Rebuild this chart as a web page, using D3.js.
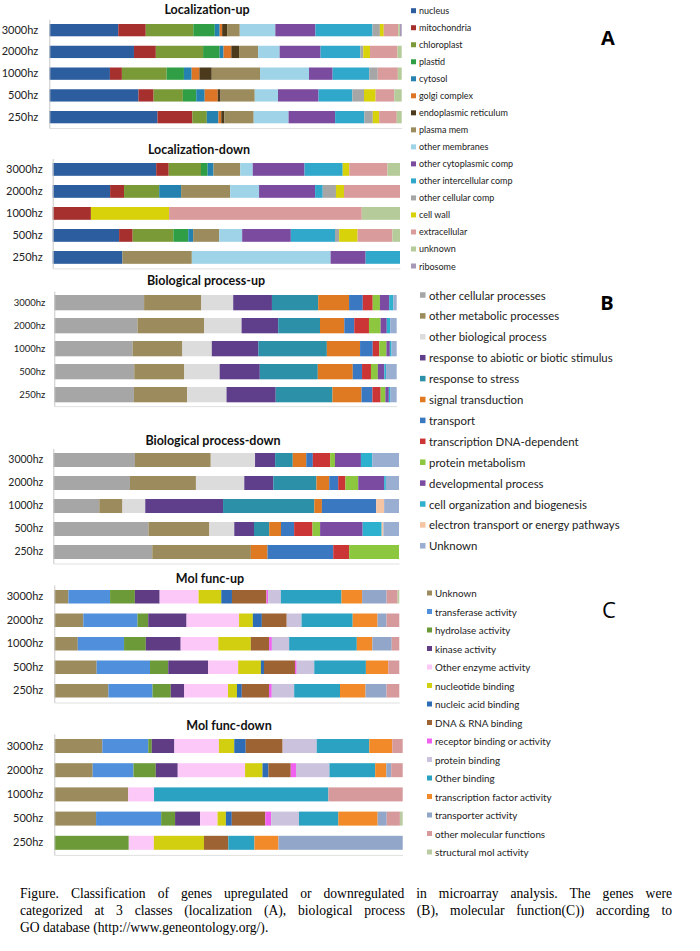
<!DOCTYPE html>
<html><head><meta charset="utf-8">
<script src="https://cdn.jsdelivr.net/npm/d3@7"></script>
<style>
body{margin:0;background:#fff;}
svg{position:absolute;left:0;top:0;}
#cap{position:absolute;left:20px;top:885px;width:652px;font-family:"Liberation Serif","Times New Roman",serif;font-size:13.6px;line-height:17px;color:#000;}
#cap div{text-align:justify;text-align-last:justify;white-space:nowrap;}
#cap div.last{text-align-last:left;}
</style></head><body>
<svg id="chart" width="700" height="880"></svg>
<div id="cap"></div>
<script>
// ---------- DATA ----------
const freqs = ["3000hz","2000hz","1000hz","500hz","250hz"];

const locCategories = ["nucleus","mitochondria","chloroplast","plastid","cytosol","golgi complex","endoplasmic reticulum","plasma mem","other membranes","other cytoplasmic comp","other intercellular comp","other cellular comp","cell wall","extracellular","unknown","ribosome"];
const locUpValues = [
  [19.6,7.8,13.5,6.1,1.4,0.7,1.4,3.6,10.1,11.4,16.2,2.1,1.1,4.1,0.5,0.5],
  [24.0,6.2,13.4,4.7,1.1,2.2,2.2,5.4,6.1,11.6,11.3,0.8,1.9,7.8,1.2,0],
  [17.2,3.4,12.7,4.9,2.2,2.2,3.5,13.7,13.9,6.7,10.4,2.4,0,5.7,1.1,0],
  [25.3,4.3,8.3,3.8,2.4,3.7,0.8,9.7,6.6,11.5,9.6,3.3,3.3,5.3,2.1,0],
  [30.7,9.9,4.1,0,3.3,0.8,0.9,8.3,9.9,13.2,8.3,2.4,1.8,5.0,1.4,0]
];
const locDownValues = [
  [29.8,3.6,9.3,1.9,1.7,0,0,7.7,3.6,14.9,11.0,0,1.9,11.0,3.6,0],
  [16.5,4.0,10.1,0,6.3,0,0,14.1,8.3,16.1,2.2,3.8,2.3,16.1,0,0],
  [0,11.0,0,0,0,0,0,0,0,0,0,0,22.5,55.5,11.0,0],
  [19.1,3.9,11.7,4.3,1.4,0,0,7.5,6.6,14.0,12.7,1.2,5.3,10.0,2.2,0],
  [20.1,0,0,0,0,0,0,20.0,40.0,10.1,9.9,0,0,0,0,0]
];

const bioCategories = ["other cellular processes","other metabolic processes","other biological process","response to abiotic or biotic stimulus","response to stress","signal transduction","transport","transcription DNA-dependent","protein metabolism","developmental process","cell organization and biogenesis","electron transport or energy pathways","Unknown"];
const bioUpValues = [
  [26.2,16.7,9.3,11.3,13.5,9.0,4.0,2.9,2.1,2.7,1.2,0,1.0],
  [24.3,19.5,10.9,10.7,12.2,7.1,2.9,4.3,3.4,1.8,1.0,0,1.9],
  [22.9,14.5,8.6,13.6,20.0,9.7,3.7,1.9,2.1,1.0,0.5,0,1.5],
  [23.3,14.6,10.3,11.7,16.9,10.2,2.7,2.6,2.0,1.9,0.5,0,3.1],
  [23.3,15.6,11.5,14.4,16.6,8.5,3.2,2.4,1.4,1.0,0.5,0,1.8]
];
const bioDownValues = [
  [23.6,21.9,12.8,5.8,5.1,3.9,1.9,5.0,1.4,7.5,3.3,0,7.7],
  [22.2,19.1,14.0,8.4,12.5,3.7,2.6,2.1,3.7,7.5,0.5,0,3.8],
  [13.3,6.7,6.6,22.5,26.4,2.2,15.7,0,0,0,0,2.3,4.3],
  [27.5,17.6,7.2,5.7,4.4,3.4,3.8,5.3,2.2,12.3,5.5,0.5,4.5],
  [28.6,28.5,0,0,0,4.8,19.0,4.6,14.4,0,0,0,0]
];

const molCategories = ["Unknown","transferase activity","hydrolase activity","kinase activity","Other enzyme activity","nucleotide binding","nucleic acid binding","DNA & RNA binding","receptor binding or activity","protein binding","Other binding","transcription factor activity","transporter activity","other molecular functions","structural mol activity"];
const molUpValues = [
  [4.1,12.1,7.2,7.2,11.3,6.6,3.1,10.0,0.5,3.7,17.6,6.0,7.1,3.2,0.5],
  [8.4,15.7,3.1,11.1,15.2,4.0,2.6,7.2,0,4.3,14.8,7.2,2.6,3.7,0],
  [6.8,13.4,6.3,10.1,10.9,9.4,0,5.3,0.8,5.0,19.6,4.5,5.6,2.2,0],
  [12.3,15.5,5.3,11.6,8.7,6.6,0.9,9.0,0.5,5.1,15.0,6.5,0,3.2,0],
  [15.7,12.8,5.3,3.9,12.7,2.6,1.4,7.9,0.8,6.5,13.3,7.4,6.1,3.7,0]
];
const molDownValues = [
  [13.8,13.2,1.0,6.5,12.8,4.4,3.3,10.6,0,9.8,15.1,6.6,0,3.0,0],
  [11.0,11.7,6.4,6.3,19.3,5.0,1.7,6.4,1.5,9.6,13.1,3.2,1.4,3.3,0],
  [21.2,0,0,0,7.4,0,0,0,0,0,50.0,0,0,21.3,0],
  [12.0,18.7,4.0,7.2,5.0,2.4,1.7,9.6,1.7,8.0,11.3,11.3,2.6,3.8,0.8],
  [0,0,21.4,0,7.2,14.4,0,7.0,0,0,7.5,6.9,35.7,0,0]
];

const captionLines = [
  "Figure. Classification of genes upregulated or downregulated in microarray analysis. The genes were",
  "categorized at 3 classes (localization (A), biological process (B), molecular function(C)) according to",
  "GO database (http://www.geneontology.org/)."
];

// ---------- STYLES ----------
const locColors = ["#2c5d9f","#a5302e","#7a9a38","#2f9e45","#2582b0","#dd7526","#4b3b1c","#9c8b5c","#9fd3e8","#7b4b9f","#30a8cc","#a6a6a6","#d8d20a","#d99b9b","#b6cb9a","#a898b8"];
const bioColors = ["#a6a6a6","#9c8b5c","#dcdcdc","#5f3f8c","#2b90a8","#df7a22","#3b78c2","#cc3535","#8dc63f","#7b4ba2","#2eb1cf","#f5c4a2","#9aaed2"];
const molColors = ["#9c8b5c","#4f8fdc","#6c9a38","#603c85","#fbc8f8","#d2cf10","#2e6db5","#9d6332","#f061f0","#cbc3de","#2ba2c2","#f28a2a","#91a6c8","#d69a9c","#bccca2"];

const FONT = "Lato, 'Open Sans', sans-serif";
const svg = d3.select("#chart");

function drawPanel(cfg, cats, colors, values){
  const rows = freqs.map((f,i)=>{const o={freq:f}; cats.forEach((c,j)=>o[c]=values[i][j]); return o;});
  const series = d3.stack().keys(cats).offset(d3.stackOffsetExpand)(rows);
  const x = d3.scaleLinear().domain([0,1]).range([cfg.x0,cfg.x1]);
  const p = 1 - cfg.barH/cfg.step;
  const r0 = cfg.top - (cfg.step-cfg.barH)/2;
  const y = d3.scaleBand().domain(freqs).range([r0, r0+freqs.length*cfg.step]).paddingInner(p).paddingOuter(p/2);
  const color = d3.scaleOrdinal().domain(cats).range(colors);
  const g = svg.append("g");
  g.append("text").attr("x",cfg.tx).attr("y",cfg.ty).attr("text-anchor","middle").attr("dominant-baseline","central")
    .attr("font-family",FONT).attr("font-weight","bold").attr("font-size",cfg.titleSize).attr("fill","#111").text(cfg.title);
  g.selectAll("g.s").data(series).join("g").attr("fill",d=>color(d.key))
    .selectAll("rect").data(d=>d).join("rect")
    .attr("x",d=>x(d[0])).attr("width",d=>Math.max(0,x(d[1])-x(d[0])))
    .attr("y",d=>y(d.data.freq)).attr("height",y.bandwidth());
  const ax = g.append("g").attr("transform",`translate(${cfg.x0},0)`)
    .call(d3.axisLeft(y).tickSize(0).tickSizeOuter(0).tickPadding(cfg.pad));
  ax.select(".domain").attr("stroke","#c8c8c8");
  ax.selectAll("text").attr("font-family",FONT).attr("font-size",cfg.labelSize).attr("fill","#222");
  const bx = g.append("g").attr("transform",`translate(0,${r0+freqs.length*cfg.step})`)
    .call(d3.axisBottom(x).ticks(0).tickSize(0).tickSizeOuter(0));
  bx.select(".domain").attr("stroke","#e0e0e0");
  bx.selectAll(".tick").remove();
}

function drawLegend(cfg, cats, colors){
  const g = svg.append("g");
  const yy = d3.scalePoint().domain(cats).range([cfg.y0, cfg.y0 + (cats.length-1)*cfg.dy]);
  const it = g.selectAll("g").data(cats).join("g").attr("transform",d=>`translate(0,${yy(d)})`);
  it.append("rect").attr("x",cfg.sx).attr("y",-cfg.sq/2).attr("width",cfg.sq).attr("height",cfg.sq).attr("fill",(d,i)=>colors[i]);
  it.append("text").attr("x",cfg.tx).attr("y",0).attr("dominant-baseline","central")
    .attr("font-family",FONT).attr("font-size",cfg.size).attr("fill","#222").text(d=>d);
  g.append("text").attr("x",cfg.lx).attr("y",cfg.ly).attr("text-anchor","middle").attr("dominant-baseline","central")
    .attr("font-family","'Open Sans', sans-serif").attr("font-weight",cfg.lw).attr("font-size",cfg.lsize).attr("fill","#000").text(cfg.letter);
}

drawPanel({title:"Localization-up",tx:207,ty:9,titleSize:12.5,x0:49.3,x1:401.7,top:24,step:21.75,barH:12.3,pad:11,labelSize:11},locCategories,locColors,locUpValues);
drawPanel({title:"Localization-down",tx:199,ty:149,titleSize:12.5,x0:52.7,x1:400,top:163,step:22,barH:12.8,pad:10,labelSize:11},locCategories,locColors,locDownValues);
drawPanel({title:"Biological process-up",tx:206,ty:280,titleSize:12.5,x0:54.3,x1:396.7,top:295,step:23,barH:15.3,pad:9,labelSize:9.5},bioCategories,bioColors,bioUpValues);
drawPanel({title:"Biological process-down",tx:213,ty:440,titleSize:12.5,x0:53.3,x1:399,top:453,step:23,barH:14,pad:10,labelSize:10.5},bioCategories,bioColors,bioDownValues);
drawPanel({title:"Mol func-up",tx:210,ty:578,titleSize:12.5,x0:54.3,x1:399.3,top:590,step:23.5,barH:13.5,pad:11,labelSize:11},molCategories,molColors,molUpValues);
drawPanel({title:"Mol func-down",tx:229,ty:725,titleSize:12.5,x0:54.3,x1:402.7,top:739,step:24.2,barH:14,pad:11,labelSize:11},molCategories,molColors,molDownValues);

drawLegend({y0:10.7,dy:17.02,sx:411,sq:5,tx:419,size:9,letter:"A",lx:608,ly:37,lsize:20,lw:"bold"},locCategories,locColors);
drawLegend({y0:295,dy:20.9,sx:420,sq:5.5,tx:429,size:11.4,letter:"B",lx:607,ly:302,lsize:20,lw:"bold"},bioCategories,bioColors);
drawLegend({y0:593,dy:18.5,sx:427,sq:5,tx:435,size:9.8,letter:"C",lx:609,ly:609,lsize:22,lw:"normal"},molCategories,molColors);

d3.select("#cap").selectAll("div").data(captionLines).join("div")
  .attr("class",(d,i)=>i===captionLines.length-1?"last":null).text(d=>d);
</script>
</body></html>
